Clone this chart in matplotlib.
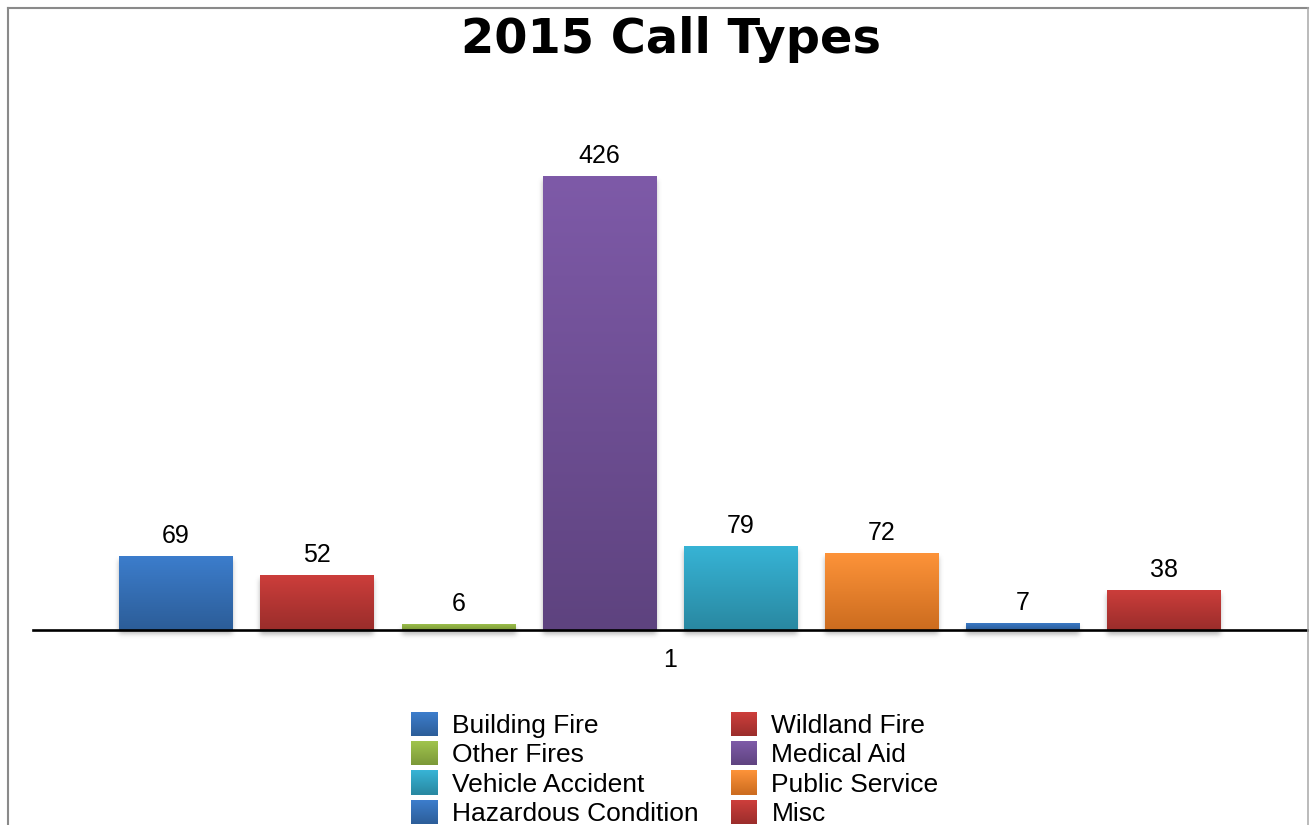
import math
import numpy as np
import matplotlib
matplotlib.use('Agg')
import matplotlib.pyplot as plt
from matplotlib.patches import Rectangle
from matplotlib.lines import Line2D
from matplotlib.legend_handler import HandlerBase
from matplotlib.colors import to_rgb

# ---------------- data ----------------
title = '2015 Call Types'
categories = ['Building Fire', 'Wildland Fire', 'Other Fires', 'Medical Aid',
              'Vehicle Accident', 'Public Service', 'Hazardous Condition', 'Misc']
values = [69, 52, 6, 426, 79, 72, 7, 38]
x_tick_labels = ['1']
top_colors = ['#3C7DCC', '#CD3E3B', '#A0C44D', '#7E5AA8',
              '#37B4D6', '#FD9339', '#3C7DCC', '#CD3E3B']
bottom_colors = ['#2C5D98', '#9A2D2B', '#7B9838', '#5E437F',
                 '#2988A1', '#CC6C1F', '#2C5D98', '#9A2D2B']

plt.rcParams['font.family'] = ['Liberation Sans', 'DejaVu Sans']

W, H = 1315, 825
fig = plt.figure(figsize=(W / 100, H / 100), dpi=100)
fig.patch.set_facecolor('white')

YMAX = 450
px_per_unit = 454 / 426.0
ax_h_px = YMAX * px_per_unit
ax = fig.add_axes([33 / W, 195 / H, 1274 / W, ax_h_px / H])
ax.set_xlim(-0.5, 0.5)
ax.set_ylim(0, YMAX)

pitch = 0.11076
width = 0.0891
positions = (np.arange(len(values)) - (len(values) - 1) / 2) * pitch

dx = 1 / 1274.0          # data per px (x)
dy = 1 / px_per_unit     # data per px (y)

bars = ax.bar(positions, values, width, color=top_colors, linewidth=0, zorder=3)

erf = np.vectorize(math.erf)

for bar, c0, c1 in zip(bars, top_colors, bottom_colors):
    x0 = bar.get_x()
    x1 = x0 + bar.get_width()
    h = bar.get_height()
    # soft shadow (offset down, blurred)
    pad = 12
    nx = int(round((x1 - x0) / dx)) + 2 * pad
    h_px = h / dy
    ny = int(round(h_px)) + 16
    xs = np.arange(nx) - pad + 0.5
    ys = np.arange(ny) + 0.5   # measured from top of bar downward
    wpx = (x1 - x0) / dx
    s = 3.5
    off = 4.0
    fx = 0.5 * (erf((xs - 0) / s) - erf((xs - wpx) / s))
    fy = 0.5 * (erf((ys - off) / s) - erf((ys - (h_px + off)) / s))
    alpha = 0.45 * np.outer(fy, fx)
    img = np.zeros((ny, nx, 4))
    img[..., :3] = 0.35
    img[..., 3] = alpha
    ax.imshow(img, extent=[x0 - pad * dx, x0 + (nx - pad) * dx, h - ny * dy, h],
              origin='upper', aspect='auto', zorder=2, interpolation='bilinear',
              clip_on=False)
    # vertical gradient on the bar
    t = np.linspace(0, 1, 256)[:, None, None]
    a = np.array(to_rgb(c0))[None, None, :]
    b = np.array(to_rgb(c1))[None, None, :]
    grad = (1 - t) * a + t * b
    im = ax.imshow(grad, extent=[x0, x1, 0, h], origin='upper', aspect='auto',
                   zorder=4, interpolation='bilinear')
    im.set_clip_path(bar)

ax.set_xlim(-0.5, 0.5)
ax.set_ylim(0, YMAX)

for p, v in zip(positions, values):
    ax.annotate(str(v), xy=(p, v), xytext=(0, 13 * 0.72), textcoords='offset points',
                ha='center', va='baseline', fontsize=18, color='black', zorder=6)

ax.set_xticks([0])
ax.set_xticklabels(x_tick_labels, fontsize=18)
ax.tick_params(axis='x', length=0, pad=13)
ax.set_yticks([])
for sp in ['left', 'right', 'top']:
    ax.spines[sp].set_visible(False)
ax.spines['bottom'].set_linewidth(1.9)
ax.spines['bottom'].set_color('black')
ax.spines['bottom'].set_zorder(5)
ax.patch.set_alpha(0)


class GradHandler(HandlerBase):
    def __init__(self, c0, c1):
        super().__init__()
        self.c0 = np.array(to_rgb(c0))
        self.c1 = np.array(to_rgb(c1))

    def create_artists(self, legend, orig_handle, xdescent, ydescent, width, height,
                       fontsize, trans):
        n = 24
        arts = []
        for k in range(n):
            tt = (k + 0.5) / n
            col = self.c0 * (1 - tt) + self.c1 * tt
            y = -ydescent + height * (1 - (k + 1) / n)
            r = Rectangle((-xdescent, y), width, height / n * 1.15, facecolor=col,
                          edgecolor='none', linewidth=0, transform=trans)
            arts.append(r)
        return arts


proxies = [Rectangle((0, 0), 1, 1) for _ in categories]
hmap = {pr: GradHandler(c0, c1) for pr, c0, c1 in zip(proxies, top_colors, bottom_colors)}
order = [0, 2, 4, 6, 1, 3, 5, 7]
leg = fig.legend([proxies[i] for i in order], [categories[i] for i in order],
                 handler_map=hmap, loc='center',
                 bbox_to_anchor=(675 / W, (825 - 769) / H),
                 bbox_transform=fig.transFigure, ncol=2, frameon=False, fontsize=19,
                 handlelength=1.02, handleheight=1.02, handletextpad=0.53,
                 columnspacing=1.2, labelspacing=0.12, borderpad=0, borderaxespad=0)

fig.text(671 / W, (825 - 53) / H, title, ha='center', va='baseline', fontsize=34.5,
         fontweight='bold', family='DejaVu Sans', color='black')

# outer frame
fig.add_artist(Line2D([7.5 / W, 7.5 / W], [0, (825 - 7.5) / H], color='#8a8a8a',
                      lw=1.5, transform=fig.transFigure))
fig.add_artist(Line2D([7.5 / W, 1307.5 / W], [(825 - 7.5) / H, (825 - 7.5) / H],
                      color='#8a8a8a', lw=1.5, transform=fig.transFigure))
fig.add_artist(Line2D([1307.5 / W, 1307.5 / W], [0, (825 - 7.5) / H], color='#a8a8a8',
                      lw=1.1, transform=fig.transFigure))

fig.savefig('out.png', dpi=100, facecolor='white')
